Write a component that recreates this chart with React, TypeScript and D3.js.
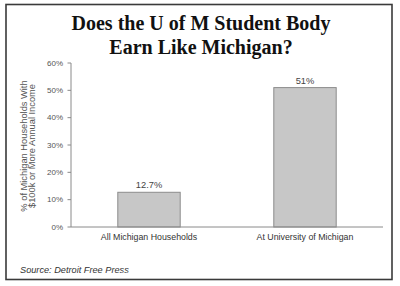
import React from "react";
import * as d3 from "d3";

const categories = ["All Michigan Households", "At University of Michigan"];
const values = [0.127, 0.51];
const valueLabels = ["12.7%", "51%"];
const yTicks = [0, 0.1, 0.2, 0.3, 0.4, 0.5, 0.6];
const titleLines = ["Does the U of M Student Body", "Earn Like Michigan?"];
const yLabelLines = ["% of Michigan Households With", "$100k or More Annual Income"];
const source = "Source: Detroit Free Press";

export default function App() {
  const W = 400, H = 286;
  const y = d3.scaleLinear().domain([0, 0.6]).range([227, 63]);
  const x = d3.scaleBand<string>().domain(categories).range([71, 383]).paddingInner(0.6).paddingOuter(0.3);
  const fmt = d3.format(".0%");
  const sans = "Arial, 'Liberation Sans', sans-serif";
  return (
    <svg width={W} height={H} style={{ position: "absolute", left: 0, top: 0, background: "#fff" }}>
      <rect x={0} y={0} width={W} height={H} fill="#fff" />
      <rect x={6} y={4.5} width={386} height={275} fill="#fff" stroke="#3a3a3a" strokeWidth={1.6} />
      {titleLines.map((t, i) => (
        <text key={i} x={201} y={30 + i * 24} textAnchor="middle" fontFamily="'Liberation Serif', 'Times New Roman', serif" fontWeight="bold" fontSize={20} fill="#111">{t}</text>
      ))}
      {/* y axis */}
      <line x1={71} x2={71} y1={y(0.6)} y2={y(0)} stroke="#8a8a8a" strokeWidth={1} />
      {yTicks.map((t) => (
        <g key={t}>
          <line x1={67.5} x2={71} y1={y(t)} y2={y(t)} stroke="#8a8a8a" />
          <text x={63} y={y(t)} dy="0.35em" textAnchor="end" fontFamily={sans} fontSize={8} fill="#555">{fmt(t)}</text>
        </g>
      ))}
      {/* bars */}
      {categories.map((c, i) => (
        <g key={c}>
          <rect x={x(c)!} y={y(values[i])} width={x.bandwidth()} height={y(0) - y(values[i])} fill="#c7c7c7" stroke="#8c8c8c" strokeWidth={1} />
          <text x={x(c)! + x.bandwidth() / 2} y={y(values[i]) - 4} textAnchor="middle" fontFamily={sans} fontSize={9.3} fill="#444">{valueLabels[i]}</text>
          <text x={x(c)! + x.bandwidth() / 2} y={240} textAnchor="middle" fontFamily={sans} fontSize={8.8} fill="#333">{c}</text>
        </g>
      ))}
      {/* x axis */}
      <line x1={71} x2={383} y1={y(0)} y2={y(0)} stroke="#8a8a8a" strokeWidth={1} />
      {/* y label */}
      <g transform="translate(26.5,146) rotate(-90)">
        {yLabelLines.map((l, i) => (
          <text key={i} x={0} y={i * 8.5} textAnchor="middle" fontFamily={sans} fontSize={9.3} fill="#555">{l}</text>
        ))}
      </g>
      <text x={20} y={273} fontFamily={sans} fontStyle="italic" fontSize={9.2} fill="#333">{source}</text>
    </svg>
  );
}
